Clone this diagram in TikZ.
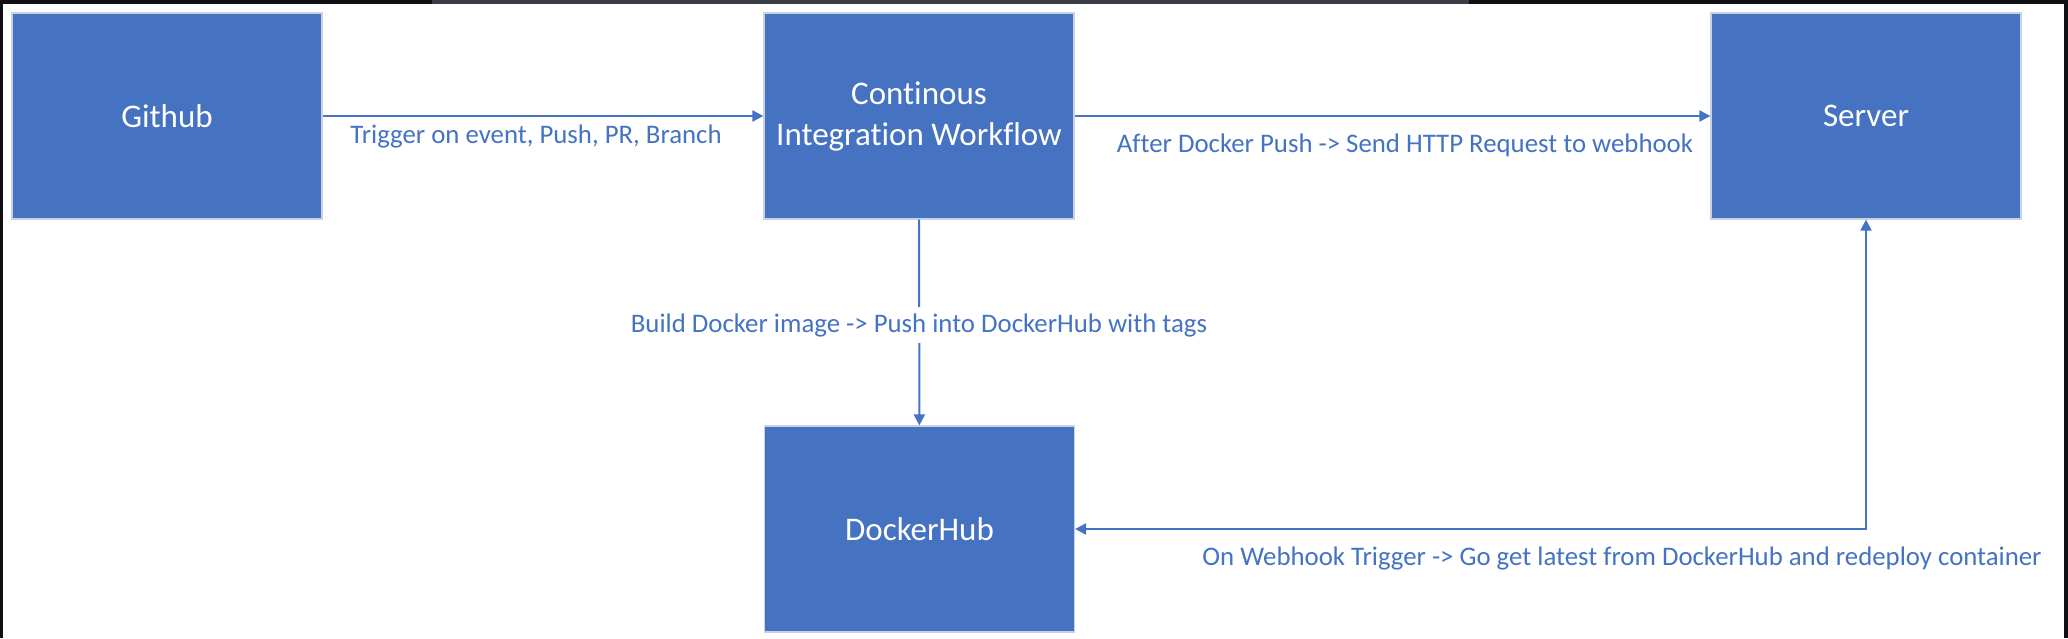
\documentclass[tikz,border=0pt]{standalone}
\usepackage{fontspec}
\setmainfont{Carlito}[Ligatures={NoCommon,NoRare}]
\usetikzlibrary{arrows.meta}
\definecolor{boxblue}{HTML}{4672C2}
\definecolor{boxedge}{HTML}{C9D2E2}
\definecolor{linkblue}{HTML}{4472C4}
\definecolor{frame}{HTML}{0E1013}
\definecolor{tabgray}{HTML}{3A3E44}
\tikzset{
  box/.style={draw=boxedge, line width=0.6pt, fill=boxblue, text=white,
    minimum width=155pt, minimum height=103pt, inner sep=0pt, align=center,
    font=\fontsize{16.5}{20.5}\selectfont},
  lbl/.style={text=linkblue, inner sep=0pt, font=\fontsize{13.4}{16}\selectfont},
  conn/.style={draw=linkblue, line width=1pt,
    -{Triangle[length=5.5pt,width=5.5pt]}},
  connboth/.style={draw=linkblue, line width=1pt,
    {Triangle[length=5.5pt,width=5.5pt]}-{Triangle[length=5.5pt,width=5.5pt]}}
}
\begin{document}
\begin{tikzpicture}[x=0.5pt, y=-0.5pt]
  \useasboundingbox (0,0) rectangle (2068,638);
  % screenshot frame
  \fill[frame] (0,0) rectangle (2068,638);
  \fill[tabgray] (432,0) rectangle (1469,4);
  \fill[white] (3,4) rectangle (2064,638);

  % boxes
  \node[box] (gh)  at (167,116)   {Github};
  \node[box] (ci)  at (919,116)   {Continous\\Integration Workflow};
  \node[box] (srv) at (1866,116)  {Server};
  \node[box] (dh)  at (919.5,529) {DockerHub};

  % connectors
  \draw[conn] (gh) -- (ci);
  \draw[conn] (ci) -- (srv);
  \draw[conn] (ci) -- (dh);
  \draw[connboth] (dh.east) -| (srv.south);

  % labels
  \node[lbl, anchor=base] (lgh) at (536,143) {Trigger on event, Push, PR, Branch};
  \node[lbl, anchor=base] (lsrv) at (1405,152) {After Docker Push -> Send HTTP Request to webhook};
  \node[lbl, anchor=base, fill=white, inner xsep=2pt, inner ysep=3pt] (ldh) at (919,332) {Build Docker image -> Push into DockerHub with tags};
  \node[lbl, anchor=base] (lwh) at (1622,565) {On Webhook Trigger -> Go get latest from DockerHub and redeploy container};
\end{tikzpicture}
\end{document}
